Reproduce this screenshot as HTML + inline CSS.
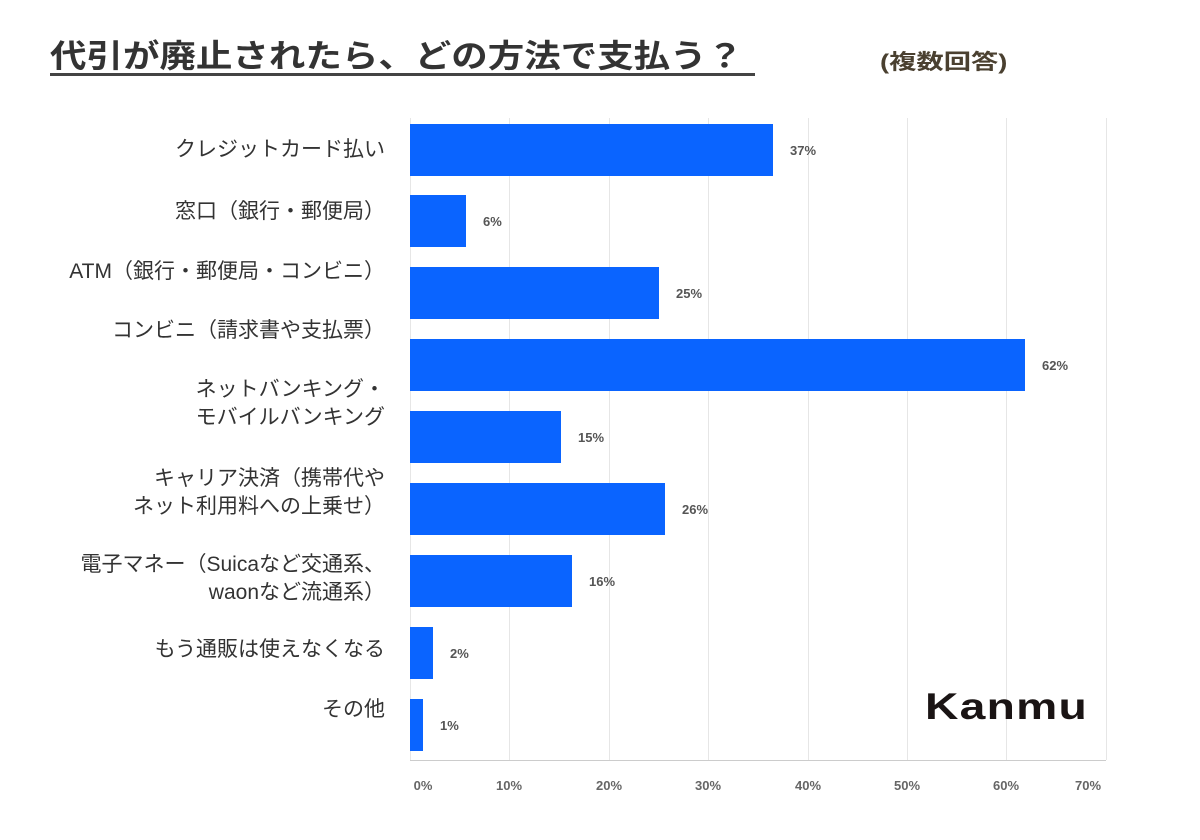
<!DOCTYPE html>
<html><head><meta charset="utf-8"><style>
body{margin:0;width:1200px;height:840px;background:#fff;position:relative;overflow:hidden;font-family:"Liberation Sans","Noto Sans CJK JP",sans-serif}
.a{position:absolute;white-space:nowrap}
.grid{position:absolute;top:118px;height:642px;width:1px;background:#e6e6e6}
.bar{position:absolute;left:410px;height:52px;background:#0a64ff}
.v{position:absolute;font-size:13px;font-weight:bold;color:#555}
.lab{position:absolute;right:815px;text-align:right;font-size:21px;color:#333;line-height:28px}
.t{position:absolute;top:778px;font-size:13px;font-weight:bold;color:#666;width:40px;text-align:center}
</style></head><body>
<div class="a" style="left:50px;top:31px;font-size:32px;font-weight:bold;color:#333;transform:scaleX(1.14);transform-origin:left top">代引が廃止されたら、どの方法で支払う？</div>
<div class="a" style="left:50px;top:73px;width:705px;height:3px;background:#444"></div>
<div class="a" style="left:880px;top:46px;font-size:21px;font-weight:bold;color:#4a4030;transform:scaleX(1.3);transform-origin:left top">(複数回答)</div>

<div class="grid" style="left:410px"></div><div class="grid" style="left:509px"></div><div class="grid" style="left:609px"></div><div class="grid" style="left:708px"></div><div class="grid" style="left:808px"></div><div class="grid" style="left:907px"></div><div class="grid" style="left:1006px"></div><div class="grid" style="left:1106px"></div>
<div class="a" style="left:410px;top:760px;width:696px;height:1px;background:#ccc"></div>

<div class="bar" style="top:124px;width:363px"></div><div class="v" style="left:790px;top:143px">37%</div>
<div class="bar" style="top:195px;width:56px"></div><div class="v" style="left:483px;top:214px">6%</div>
<div class="bar" style="top:267px;width:249px"></div><div class="v" style="left:676px;top:286px">25%</div>
<div class="bar" style="top:339px;width:615px"></div><div class="v" style="left:1042px;top:358px">62%</div>
<div class="bar" style="top:411px;width:151px"></div><div class="v" style="left:578px;top:430px">15%</div>
<div class="bar" style="top:483px;width:255px"></div><div class="v" style="left:682px;top:502px">26%</div>
<div class="bar" style="top:555px;width:162px"></div><div class="v" style="left:589px;top:574px">16%</div>
<div class="bar" style="top:627px;width:23px"></div><div class="v" style="left:450px;top:646px">2%</div>
<div class="bar" style="top:699px;width:13px"></div><div class="v" style="left:440px;top:718px">1%</div>

<div class="lab" style="top:136px">クレジットカード払い</div>
<div class="lab" style="top:198px">窓口（銀行・郵便局）</div>
<div class="lab" style="top:258px">ATM（銀行・郵便局・コンビニ）</div>
<div class="lab" style="top:317px">コンビニ（請求書や支払票）</div>
<div class="lab" style="top:376px">ネットバンキング・<br>モバイルバンキング</div>
<div class="lab" style="top:465px">キャリア決済（携帯代や<br>ネット利用料への上乗せ）</div>
<div class="lab" style="top:551px">電子マネー（Suicaなど交通系、<br>waonなど流通系）</div>
<div class="lab" style="top:636px">もう通販は使えなくなる</div>
<div class="lab" style="top:696px">その他</div>

<div class="a" style="left:925px;top:686px;font-size:37px;font-weight:bold;color:#1a1414;letter-spacing:1px;transform:scaleX(1.25);transform-origin:left top">Kanmu</div>

<div class="t" style="left:403px">0%</div><div class="t" style="left:489px">10%</div><div class="t" style="left:589px">20%</div><div class="t" style="left:688px">30%</div><div class="t" style="left:788px">40%</div><div class="t" style="left:887px">50%</div><div class="t" style="left:986px">60%</div><div class="t" style="left:1068px">70%</div>
</body></html>
